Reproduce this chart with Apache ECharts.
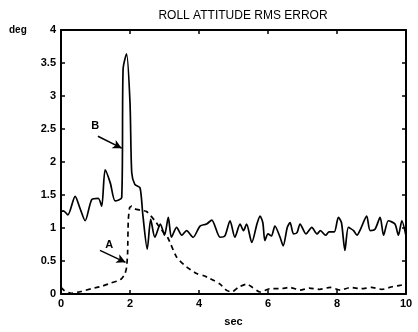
<!DOCTYPE html>
<html><head><meta charset="utf-8">
<script src="https://cdn.jsdelivr.net/npm/echarts@6/dist/echarts.min.js"></script>
<style>html,body{margin:0;padding:0;background:#fff}#c{width:418px;height:332px}</style>
</head><body><div id="c"></div>
<script>
const xTicks = [0, 2, 4, 6, 8, 10];
const yTicks = [0, 0.5, 1, 1.5, 2, 2.5, 3, 3.5, 4];
const tB = [0,0.07,0.2,0.41,0.55,0.7,0.89,1.08,1.18,1.28,1.43,1.57,1.76,1.8,1.9,2.0,2.05,2.14,2.29,2.37,2.5,2.6,2.72,2.88,3.0,3.11,3.2,3.35,3.5,3.64,3.83,4.03,4.22,4.37,4.61,4.75,4.9,5.04,5.19,5.29,5.38,5.53,5.68,5.77,5.85,5.91,6.0,6.1,6.2,6.35,6.44,6.56,6.64,6.74,6.84,6.93,7.1,7.27,7.42,7.52,7.67,7.77,7.92,8.04,8.13,8.23,8.33,8.48,8.58,8.68,8.86,8.96,9.1,9.25,9.35,9.49,9.68,9.78,9.88,10.0];
const vB = [1.25,1.26,1.2,1.48,1.3,1.11,1.43,1.45,1.33,1.88,1.68,1.41,1.46,3.41,3.64,2.9,1.84,1.66,1.61,1.21,0.68,1.13,0.86,1.06,0.89,1.16,0.86,1.01,0.89,0.96,0.86,1.03,1.06,1.12,0.86,0.88,1.11,0.86,1.06,0.96,1.06,0.78,1.06,1.18,1.08,0.81,0.91,0.88,1.03,0.86,0.73,1.01,1.08,0.91,0.93,1.06,0.91,1.01,0.91,0.96,0.89,0.94,0.94,1.16,1.08,0.66,1.01,0.96,0.89,0.98,1.18,0.96,0.98,1.16,0.89,1.11,1.06,0.89,1.11,0.88];
const tA = [0,0.1,0.3,0.6,0.88,1.2,1.46,1.65,1.75,1.85,1.9,1.93,1.95,1.99,2.05,2.14,2.3,2.48,2.72,2.9,3.09,3.35,3.64,3.93,4.12,4.3,4.45,4.61,4.8,4.95,5.14,5.38,5.55,5.77,6.06,6.35,6.64,6.93,7.2,7.5,7.8,8.1,8.4,8.7,9.0,9.3,9.6,9.83,10];
const vA = [0.1,0.05,0.01,0.04,0.08,0.12,0.17,0.2,0.23,0.3,0.4,0.61,1.11,1.31,1.33,1.29,1.27,1.25,1.11,0.98,0.86,0.56,0.41,0.31,0.28,0.24,0.2,0.15,0.055,0.03,0.1,0.15,0.1,0.03,0.08,0.08,0.1,0.06,0.09,0.07,0.1,0.06,0.1,0.08,0.1,0.07,0.11,0.13,0.15];
const arrowB = [[1.07, 2.39], [1.76, 2.21]];
const arrowA = [[1.13, 0.66], [1.87, 0.48]];
const labelB = [0.99, 2.55];
const labelA = [1.4, 0.74];

const F = 'Liberation Sans, Arial, sans-serif';
const chart = echarts.init(document.getElementById('c'));
const axisCommon = {
  type: 'value',
  axisLine: {show: true, onZero: false, lineStyle: {color: '#000', width: 2}},
  axisTick: {show: true, inside: true, length: 4, lineStyle: {color: '#000', width: 1.5}},
  splitLine: {show: false}
};
const xAxisBase = Object.assign({}, axisCommon, {min: 0, max: 10, interval: 2});
const yAxisBase = Object.assign({}, axisCommon, {min: 0, max: 4, interval: 0.5});
chart.setOption({
  animation: false,
  backgroundColor: '#fff',
  title: {text: 'ROLL ATTITUDE RMS ERROR', left: 238, top: 5, textAlign: 'center',
    textStyle: {fontFamily: F, fontSize: 12, fontWeight: 'normal', color: '#000'}},
  graphic: [{type: 'text', left: 9, top: 25, style: {text: 'deg', font: 'bold 10px ' + F, fill: '#000'}}],
  grid: {left: 61, right: 12, top: 30, bottom: 35},
  xAxis: [
    Object.assign({}, xAxisBase, {position: 'bottom', name: 'sec', nameLocation: 'middle', nameGap: 22,
      nameTextStyle: {fontFamily: F, fontSize: 11, fontWeight: 'bold', color: '#000'},
      axisLabel: {fontFamily: F, fontSize: 11, fontWeight: 'bold', color: '#000', margin: 4,
        formatter: v => xTicks.includes(v) ? String(v) : ''}}),
    Object.assign({}, xAxisBase, {position: 'top', axisLabel: {show: false}})
  ],
  yAxis: [
    Object.assign({}, yAxisBase, {position: 'left',
      axisLabel: {fontFamily: F, fontSize: 11, fontWeight: 'bold', color: '#000', margin: 5,
        formatter: v => yTicks.includes(v) ? String(v) : ''}}),
    Object.assign({}, yAxisBase, {position: 'right', axisLabel: {show: false}})
  ],
  series: [
    {type: 'line', name: 'B', data: tB.map((t, i) => [t, vB[i]]), symbol: 'none', smooth: 0.25,
      lineStyle: {color: '#000', width: 1.7}, z: 3,
      markLine: {silent: true, symbol: ['none', 'arrow'], symbolSize: [7, 9],
        lineStyle: {color: '#000', width: 1.5, type: 'solid'}, label: {show: false},
        data: [[{coord: arrowB[0]}, {coord: arrowB[1]}], [{coord: arrowA[0]}, {coord: arrowA[1]}]]},
      markPoint: {silent: true, symbol: 'circle', symbolSize: 0,
        label: {show: true, position: 'inside', fontFamily: F, fontSize: 11, fontWeight: 'bold', color: '#000'},
        data: [{coord: labelB, value: 'B'}, {coord: labelA, value: 'A'}]}},
    {type: 'line', name: 'A', data: tA.map((t, i) => [t, vA[i]]), symbol: 'none', smooth: 0.2,
      lineStyle: {color: '#000', width: 1.7, type: [5, 4]}, z: 2}
  ]
});
</script></body></html>
